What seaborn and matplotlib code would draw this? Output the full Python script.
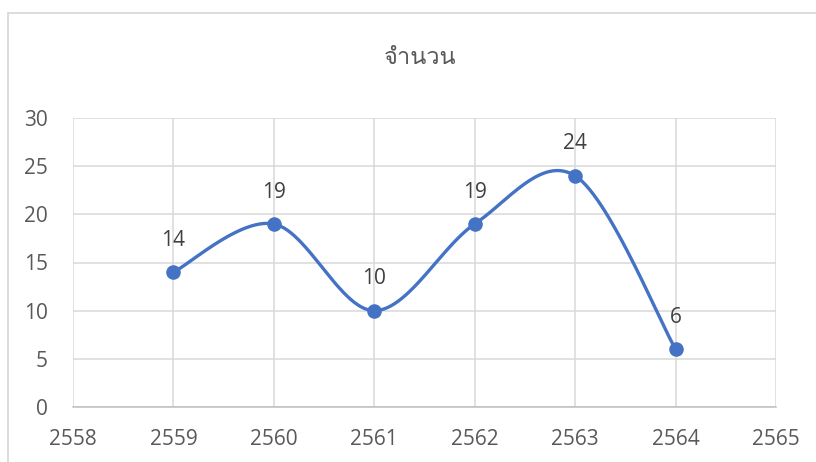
import matplotlib
matplotlib.use("Agg")
import matplotlib.pyplot as plt
from matplotlib import font_manager
from matplotlib.ft2font import FT2Font
from matplotlib.patches import Rectangle
import numpy as np
import pandas as pd
import seaborn as sns

# Data
years = [2559, 2560, 2561, 2562, 2563, 2564]
counts = [14, 19, 10, 19, 24, 6]
title = "จำนวน"
x_ticks = [2558, 2559, 2560, 2561, 2562, 2563, 2564, 2565]
y_ticks = [0, 5, 10, 15, 20, 25, 30]

BLUE = "#4472C4"
GRID = "#D9D9D9"
TEXT = "#595959"
LABEL = "#404040"


def thai_family():
    """Return an installed family that has Thai glyphs, if any."""
    for fe in font_manager.fontManager.ttflist:
        try:
            cmap = FT2Font(fe.fname).get_charmap()
        except Exception:
            continue
        if 0x0E08 in cmap and 0x0E19 in cmap:
            return fe.name
    return None


def smooth_path(xs, ys, n=60):
    """Cubic Bezier smoothing through every point (Catmull-Rom tangents)."""
    xs = np.asarray(xs, float)
    ys = np.asarray(ys, float)
    px = np.concatenate([[xs[0]], xs, [xs[-1]]])
    py = np.concatenate([[ys[0]], ys, [ys[-1]]])
    out_x, out_y = [], []
    t = np.linspace(0, 1, n)
    for i in range(1, len(px) - 2):
        p0 = np.array([px[i], py[i]])
        p3 = np.array([px[i + 1], py[i + 1]])
        c1 = p0 + (np.array([px[i + 1], py[i + 1]]) - np.array([px[i - 1], py[i - 1]])) / 6
        c2 = p3 - (np.array([px[i + 2], py[i + 2]]) - np.array([px[i], py[i]])) / 6
        b = ((1 - t) ** 3)[:, None] * p0 + (3 * (1 - t) ** 2 * t)[:, None] * c1 \
            + (3 * (1 - t) * t ** 2)[:, None] * c2 + (t ** 3)[:, None] * p3
        if i > 1:
            b = b[1:]
        out_x.extend(b[:, 0])
        out_y.extend(b[:, 1])
    return np.array(out_x), np.array(out_y)


sns.set_theme(style="white")
base_font = "Open Sans"
th = thai_family()
plt.rcParams["font.family"] = [base_font, "DejaVu Sans"] + ([th] if th else [])

fig = plt.figure(figsize=(8.16, 4.62), dpi=100)
ax = fig.add_axes([73 / 816, 1 - 407 / 462, (776 - 73) / 816, (407 - 118) / 462])

df = pd.DataFrame({"year": years, "count": counts})
sx, sy = smooth_path(years, counts)
curve = pd.DataFrame({"x": sx, "y": sy})

sns.lineplot(data=curve, x="x", y="y", sort=False, estimator=None,
             color=BLUE, linewidth=2.4, ax=ax, zorder=3)
sns.scatterplot(data=df, x="year", y="count", color=BLUE, s=110,
                edgecolor=BLUE, linewidth=0, ax=ax, zorder=4)

for xv, yv in zip(years, counts):
    ax.annotate(str(yv), (xv, yv), xytext=(0, 23), textcoords="offset points",
                ha="center", va="center", fontsize=15, color=LABEL)

ax.set_xlim(x_ticks[0], x_ticks[-1])
ax.set_ylim(y_ticks[0], y_ticks[-1])
ax.set_xticks(x_ticks)
ax.set_yticks(y_ticks)
ax.set_xlabel("")
ax.set_ylabel("")
ax.grid(True, color=GRID, linewidth=1.1)
ax.set_axisbelow(True)
ax.tick_params(axis="both", length=0, labelsize=15, labelcolor=TEXT)
ax.tick_params(axis="y", pad=18)
ax.tick_params(axis="x", pad=16)
for side in ["top", "right", "left"]:
    ax.spines[side].set_visible(False)
ax.spines["bottom"].set_color("#BFBFBF")
ax.spines["bottom"].set_linewidth(1.1)

title_family = ([th] if th else []) + ["DejaVu Sans"]
fig.text(420 / 816, 1 - 58 / 462, title, ha="center", va="center",
         fontsize=17, color=TEXT, family=title_family)

# Chart-area frame
fig.patches.append(Rectangle((8 / 816, -0.1), 1.2, 1 - 13 / 462 + 0.1,
                             transform=fig.transFigure, fill=False,
                             edgecolor=GRID, linewidth=1.3))

fig.savefig("out.png", dpi=100)
